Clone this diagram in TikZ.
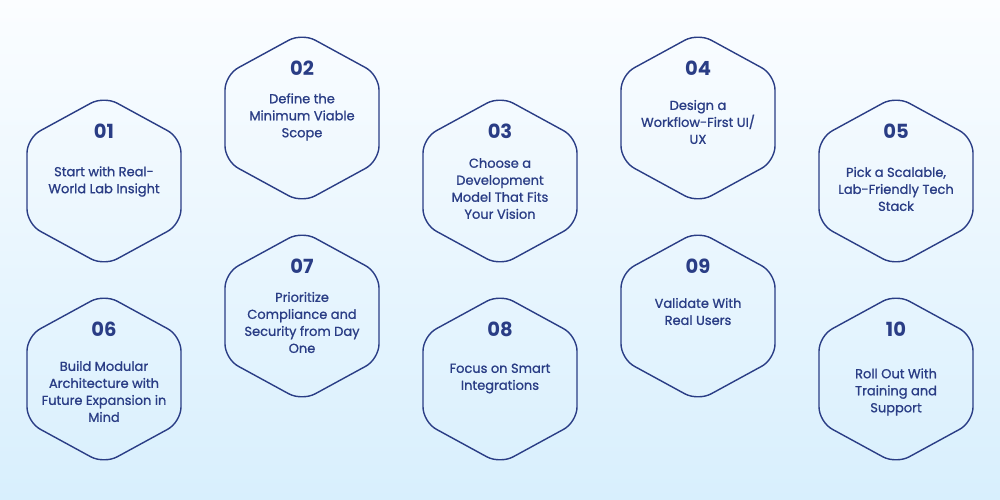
\documentclass[tikz,border=0pt]{standalone}
\usepackage{fontspec}
\setmainfont{Poppins}
\newfontfamily\medfont{Poppins}[FakeBold=1]
\definecolor{navy}{HTML}{2A3D85}
\definecolor{bgtop}{HTML}{FBFDFF}
\definecolor{bgbot}{HTML}{D8EFFD}
\tikzset{
  hexline/.style={draw=navy, line width=1.4pt, rounded corners=15pt},
  numtext/.style={font=\fontsize{19.5}{19.5}\selectfont\bfseries, text=navy, inner sep=0pt},
  bodytext/.style={font=\fontsize{13}{17}\selectfont\medfont, text=navy, align=center, inner sep=0pt},
}
% #1 name, #2 cx, #3 cy, #4 number, #5 text centre y, #6 text
\newcommand{\hexitem}[6]{%
  \draw[hexline] (#2,#3-85) -- (#2+77,#3-43) -- (#2+77,#3+43) -- (#2,#3+85)
     -- (#2-77,#3+43) -- (#2-77,#3-43) -- cycle;
  \node[numtext] (#1n) at (#2,#3-50) {#4};
  \node[bodytext] (#1t) at (#2,#5) {#6};
}
\begin{document}
\begin{tikzpicture}[x=1pt,y=-1pt]
\useasboundingbox (0,0) rectangle (1000,500);
\shade[top color=bgtop, bottom color=bgbot] (0,0) rectangle (1000,500);
\hexitem{h01}{104}{181}{01}{181.5}{Start with Real-\\World Lab Insight}
\hexitem{h02}{302}{118}{02}{117}{Define the\\Minimum Viable\\Scope}
\hexitem{h03}{500}{181}{03}{188.5}{Choose a\\Development\\Model That Fits\\Your Vision}
\hexitem{h04}{698}{118}{04}{122}{Design a\\Workflow-First UI/\\UX}
\hexitem{h05}{896}{181}{05}{189}{Pick a Scalable,\\Lab-Friendly Tech\\Stack}
\hexitem{h06}{104}{379}{06}{391.5}{Build Modular\\Architecture with\\Future Expansion in\\Mind}
\hexitem{h07}{302}{316}{07}{322.5}{Prioritize\\Compliance and\\Security from Day\\One}
\hexitem{h08}{500}{379}{08}{378.5}{Focus on Smart\\Integrations}
\hexitem{h09}{698}{316}{09}{311.5}{Validate With\\Real Users}
\hexitem{h10}{896}{379}{10}{392}{Roll Out With\\Training and\\Support}
\end{tikzpicture}
\end{document}
